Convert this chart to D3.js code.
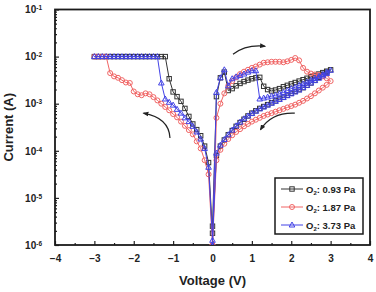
<!DOCTYPE html>
<html>
<head>
<meta charset="utf-8">
<script src="https://cdn.jsdelivr.net/npm/d3@7"></script>
<style>
  body { margin: 0; background: #fff; }
  svg { display: block; font-family: "Liberation Sans", Arial, sans-serif; font-weight: bold; }
</style>
</head>
<body>
<div id="chart"></div>
<script>
// voltage sweep: 0 -> 3 V, back to 0, then 0 -> -3 V
const vForward = [0, 0.1, 0.2, 0.3, 0.4, 0.5, 0.6, 0.7, 0.8, 0.9, 1.0, 1.1, 1.2, 1.3, 1.4, 1.5,
  1.6, 1.7, 1.8, 1.9, 2.0, 2.1, 2.2, 2.3, 2.4, 2.5, 2.6, 2.7, 2.8, 2.9, 3.0];
const vReverse = [2.9, 2.8, 2.7, 2.6, 2.5, 2.4, 2.3, 2.2, 2.1, 2.0, 1.9, 1.8, 1.7, 1.6, 1.5,
  1.4, 1.3, 1.2, 1.1, 1.0, 0.9, 0.8, 0.7, 0.6, 0.5, 0.4, 0.3, 0.2, 0.1, 0];
const vNegative = [-0.1, -0.2, -0.3, -0.4, -0.5, -0.6, -0.7, -0.8, -0.9, -1.0, -1.1, -1.2, -1.3,
  -1.4, -1.5, -1.6, -1.7, -1.8, -1.9, -2.0, -2.1, -2.2, -2.3, -2.4, -2.5, -2.6, -2.7, -2.8, -2.9, -3.0];

// log10(current / A), same order as the voltages
const logI_093 = [
  -5.6, -2.85, -2.45, -2.33, -2.72, -2.68, -2.62, -2.57, -2.53, -2.5, -2.47, -2.45, -2.44, -2.63, -2.7, -2.73,
  -2.71, -2.68, -2.64, -2.61, -2.58, -2.55, -2.52, -2.49, -2.46, -2.43, -2.4, -2.37, -2.34, -2.31, -2.28,
  -2.33, -2.38, -2.44, -2.5, -2.56, -2.61, -2.66, -2.7, -2.74, -2.78, -2.82, -2.86, -2.9, -2.94, -2.98,
  -3.02, -3.06, -3.1, -3.15, -3.2, -3.26, -3.33, -3.4, -3.48, -3.57, -3.66, -3.77, -3.9, -4.1, -5.75,
  -4.25, -3.9, -3.68, -3.55, -3.43, -3.27, -3.1, -2.95, -2.85, -2.75, -2.47, -2, -2,
  -2, -2, -2, -2, -2, -2, -2, -2, -2, -2, -2, -2, -2, -2, -2, -2, -2
];
const logI_187 = [
  -6, -3.3, -3.0, -2.78, -2.62, -2.52, -2.44, -2.37, -2.32, -2.28, -2.24, -2.21, -2.17, -2.13, -2.12, -2.11,
  -2.11, -2.11, -2.12, -2.1, -2.07, -2.03, -2.08, -2.24, -2.32, -2.36, -2.38, -2.39, -2.42, -2.46, -2.52,
  -2.6, -2.66, -2.72, -2.78, -2.84, -2.89, -2.94, -2.98, -3.02, -3.05, -3.08, -3.11, -3.14, -3.17, -3.2,
  -3.23, -3.26, -3.3, -3.34, -3.38, -3.43, -3.48, -3.54, -3.6, -3.67, -3.75, -3.85, -3.98, -4.2, -6,
  -4.5, -4.2, -3.95, -3.8, -3.65, -3.56, -3.47, -3.38, -3.29, -3.22, -3.14, -3.07, -3.0,
  -2.93, -2.86, -2.8, -2.78, -2.82, -2.8, -2.74, -2.56, -2.55, -2.5, -2.45, -2.42, -2.35, -2, -2, -2, -2
];
const logI_373 = [
  -6, -2.76, -2.45, -2.28, -2.62, -2.47, -2.43, -2.4, -2.37, -2.33, -2.3, -2.3, -2.9, -2.88, -2.86, -2.84,
  -2.82, -2.79, -2.76, -2.72, -2.68, -2.65, -2.61, -2.58, -2.54, -2.5, -2.46, -2.42, -2.38, -2.33, -2.29,
  -2.36, -2.41, -2.46, -2.51, -2.56, -2.61, -2.66, -2.71, -2.75, -2.79, -2.83, -2.87, -2.91, -2.95, -2.99,
  -3.03, -3.07, -3.11, -3.16, -3.21, -3.26, -3.32, -3.39, -3.47, -3.56, -3.66, -3.76, -3.88, -4.05, -5.9,
  -4.35, -3.95, -3.75, -3.6, -3.48, -3.38, -3.3, -3.2, -3.12, -3.03, -2.97, -2.9, -2.56,
  -2, -2, -2, -2, -2, -2, -2, -2, -2, -2, -2, -2, -2, -2, -2, -2, -2
];

const seriesNames = ["0.93 Pa", "1.87 Pa", "3.73 Pa"];
const seriesColors = ["#333333", "#f06464", "#4343e6"];
const seriesMarkers = ["square", "circle", "triangle"];
const seriesLogI = [logI_093, logI_187, logI_373];

const xTicks = [-4, -3, -2, -1, 0, 1, 2, 3, 4];
const xMinorTicks = [-3.5, -2.5, -1.5, -0.5, 0.5, 1.5, 2.5, 3.5];
const yDecades = [1e-6, 1e-5, 1e-4, 1e-3, 1e-2, 1e-1];

// arrows, in data units: [start, control, end]
const arrows = [
  [[0.52, -1.95], [0.85, -1.74], [1.33, -1.78]],
  [[2.09, -3.2], [1.5, -3.18], [1.22, -3.55]],
  [[-1.08, -3.73], [-1.1, -3.3], [-1.75, -3.2]]
];

const W = 376, H = 292;
const margin = { left: 55, right: 6, top: 9.5, bottom: 47 };

const svg = d3.select("#chart").append("svg").attr("width", W).attr("height", H);

const x = d3.scaleLinear().domain([-4, 4]).range([margin.left, W - margin.right]);
const y = d3.scaleLog().domain([1e-6, 1e-1]).range([H - margin.bottom, margin.top]);

const voltages = vForward.concat(vReverse, vNegative);

svg.append("clipPath").attr("id", "plot")
  .append("rect")
  .attr("x", x(-4)).attr("y", y(1e-1))
  .attr("width", x(4) - x(-4)).attr("height", y(1e-6) - y(1e-1));

// axes
const xAxis = svg.append("g")
  .attr("transform", `translate(0,${y(1e-6)})`)
  .call(d3.axisBottom(x).tickValues(xTicks).tickSize(-4).tickPadding(10)
    .tickFormat(d3.format("d")));
svg.append("g")
  .attr("transform", `translate(0,${y(1e-6)})`)
  .call(d3.axisBottom(x).tickValues(xMinorTicks).tickSize(-2).tickFormat(""));

const yAxis = svg.append("g")
  .attr("transform", `translate(${x(-4)},0)`)
  .call(d3.axisLeft(y).tickValues(yDecades).tickSize(-4).tickPadding(13).tickFormat(""));
svg.append("g")
  .attr("transform", `translate(${x(-4)},0)`)
  .call(d3.axisLeft(y).tickValues(y.ticks().filter((t) => !yDecades.includes(t)))
    .tickSize(-2).tickFormat(""));

svg.selectAll(".domain").remove();
svg.selectAll(".tick line").attr("stroke", "#222").attr("stroke-width", 1.2);

xAxis.selectAll("text")
  .attr("font-size", 10).attr("font-weight", "bold").attr("fill", "#222")
  .attr("font-family", "Liberation Sans, Arial, sans-serif");

yAxis.selectAll(".tick text").each(function (d) {
  const t = d3.select(this)
    .attr("font-size", 10).attr("font-weight", "bold").attr("fill", "#222")
    .attr("font-family", "Liberation Sans, Arial, sans-serif");
  t.text("10");
  t.append("tspan").attr("font-size", 6.5).attr("dy", "-0.45em")
    .text(Math.round(Math.log10(d)));
});

// frame
svg.append("rect")
  .attr("x", x(-4)).attr("y", y(1e-1))
  .attr("width", x(4) - x(-4)).attr("height", y(1e-6) - y(1e-1))
  .attr("fill", "none").attr("stroke", "#1a1a1a").attr("stroke-width", 1.8);

// titles
svg.append("text")
  .attr("x", x(0)).attr("y", 285)
  .attr("text-anchor", "middle").attr("font-size", 13).attr("fill", "#222")
  .text("Voltage (V)");
svg.append("text")
  .attr("transform", `translate(13,${(y(1e-6) + y(1e-1)) / 2}) rotate(-90)`)
  .attr("text-anchor", "middle").attr("font-size", 13).attr("fill", "#222")
  .text("Current (A)");

// markers
function drawMarker(g, type, color) {
  if (type === "square") {
    g.append("rect").attr("x", -2.2).attr("y", -2.2).attr("width", 4.4).attr("height", 4.4)
      .attr("fill", "none").attr("stroke", color).attr("stroke-width", 1);
  } else if (type === "circle") {
    g.append("circle").attr("r", 2.5)
      .attr("fill", "none").attr("stroke", color).attr("stroke-width", 1);
  } else {
    g.append("path").attr("d", "M0,-3 L2.8,2 L-2.8,2 Z")
      .attr("fill", "none").attr("stroke", color).attr("stroke-width", 1);
  }
}

const plot = svg.append("g").attr("clip-path", "url(#plot)");
const line = d3.line().x((d) => x(d[0])).y((d) => y(d[1]));

seriesLogI.forEach((logs, k) => {
  const pts = voltages.map((v, i) => [v, Math.pow(10, logs[i])]);
  const g = plot.append("g");
  g.append("path").datum(pts)
    .attr("d", line).attr("fill", "none")
    .attr("stroke", seriesColors[k]).attr("stroke-width", 1);
  g.selectAll("g.pt").data(pts).join("g")
    .attr("class", "pt")
    .attr("transform", (d) => `translate(${x(d[0])},${y(d[1])})`)
    .each(function () { drawMarker(d3.select(this), seriesMarkers[k], seriesColors[k]); });
});

// arrows
svg.append("defs").append("marker")
  .attr("id", "head").attr("viewBox", "0 0 10 10")
  .attr("refX", 8).attr("refY", 5)
  .attr("markerWidth", 5).attr("markerHeight", 5)
  .attr("orient", "auto")
  .append("path").attr("d", "M0,1 L10,5 L0,9 Z").attr("fill", "#222");

arrows.forEach((a) => {
  const p = a.map((d) => [x(d[0]), y(Math.pow(10, d[1]))]);
  svg.append("path")
    .attr("d", `M${p[0][0]},${p[0][1]} Q${p[1][0]},${p[1][1]} ${p[2][0]},${p[2][1]}`)
    .attr("fill", "none").attr("stroke", "#222").attr("stroke-width", 1.2)
    .attr("marker-end", "url(#head)");
});

// legend
const legend = svg.append("g").attr("transform", "translate(275,178)");
legend.append("rect").attr("width", 88).attr("height", 56)
  .attr("fill", "#fff").attr("stroke", "#1a1a1a").attr("stroke-width", 1.5);

seriesNames.forEach((name, k) => {
  const row = legend.append("g").attr("transform", `translate(0,${11 + k * 18})`);
  row.append("line").attr("x1", 6).attr("x2", 28)
    .attr("stroke", seriesColors[k]).attr("stroke-width", 1);
  drawMarker(row.append("g").attr("transform", "translate(17,0)"), seriesMarkers[k], seriesColors[k]);
  const t = row.append("text").attr("x", 31).attr("y", 3.5)
    .attr("font-size", 9.5).attr("fill", "#222");
  t.append("tspan").text("O");
  t.append("tspan").attr("font-size", 6).attr("dy", 2).text("2");
  t.append("tspan").attr("dy", -2).text(": " + name);
});
</script>
</body>
</html>
